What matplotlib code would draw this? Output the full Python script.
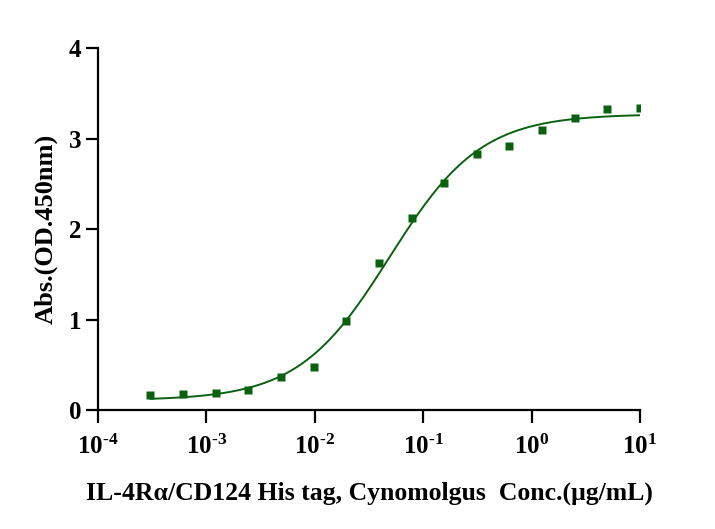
import numpy as np
import matplotlib
matplotlib.use("Agg")
import matplotlib.pyplot as plt

plt.rcParams.update({'font.family': 'Liberation Serif', 'font.weight': 'bold'})
plt.rcParams.update({'mathtext.fontset': 'custom',
                     'mathtext.rm': 'Liberation Serif:bold',
                     'mathtext.default': 'rm'})

# concentration (ug/mL), 2-fold dilution from 10
conc = [10, 5, 2.5, 1.25, 0.625, 0.3125, 0.15625, 0.078125, 0.0390625,
        0.01953, 0.009766, 0.004883, 0.002441, 0.001221, 0.0006104, 0.0003052]
od450 = [3.34, 3.33, 3.23, 3.10, 2.92, 2.83, 2.51, 2.12, 1.62,
         0.98, 0.47, 0.36, 0.22, 0.19, 0.18, 0.17]
xtick_pos = [1e-4, 1e-3, 1e-2, 1e-1, 1, 10]
xtick_exp = ['-4', '-3', '-2', '-1', '0', '1']

x = np.array(conc)
y = np.array(od450)

# 4PL fit: grid over ec50/hill, bottom/top by linear least squares
best = None
for lec in np.linspace(-2, -0.8, 121):
    for h in np.linspace(0.6, 1.8, 121):
        f = 1.0 / (1.0 + (10**lec / x)**h)
        A = np.column_stack([1 - f, f])
        coef, res, _, _ = np.linalg.lstsq(A, y, rcond=None)
        err = np.sum((A @ coef - y)**2)
        if best is None or err < best[0]:
            best = (err, lec, h, coef)
_, lec, h, (bot, top) = best

xs = np.logspace(np.log10(x.min()), np.log10(x.max()), 300)
ys = bot + (top - bot) / (1 + (10**lec / xs)**h)

green = '#0a6110'
fig = plt.figure(figsize=(7.15, 5.29), dpi=100)
ax = fig.add_axes([0.137, 0.225, 0.758, 0.684])
ax.plot(xs, ys, color=green, lw=1.4)
ax.plot(x, y, 's', color=green, ms=6, mec='none')

ax.set_xscale('log')
ax.set_xlim(1e-4, 10)
ax.set_ylim(0, 4)
ax.set_xticks(xtick_pos)
ax.set_xticklabels(['10$^{\\text{%s}}$' % e for e in xtick_exp])
ax.minorticks_off()
ax.set_yticks([0, 1, 2, 3, 4])

ax.spines['top'].set_visible(False)
ax.spines['right'].set_visible(False)
for s in ['left', 'bottom']:
    ax.spines[s].set_linewidth(1.6)
ax.tick_params(width=1.6, length=9, labelsize=18, pad=3)
ax.tick_params(axis='x', pad=9)

ax.set_ylabel('Abs.(OD.450nm)', fontsize=19, fontweight='bold', labelpad=8)
ax.set_xlabel('IL-4R\u03b1/CD124 His tag, Cynomolgus  Conc.(\u03bcg/mL)',
              fontsize=18.5, fontweight='bold', labelpad=16)

fig.savefig('out.png', dpi=100)
